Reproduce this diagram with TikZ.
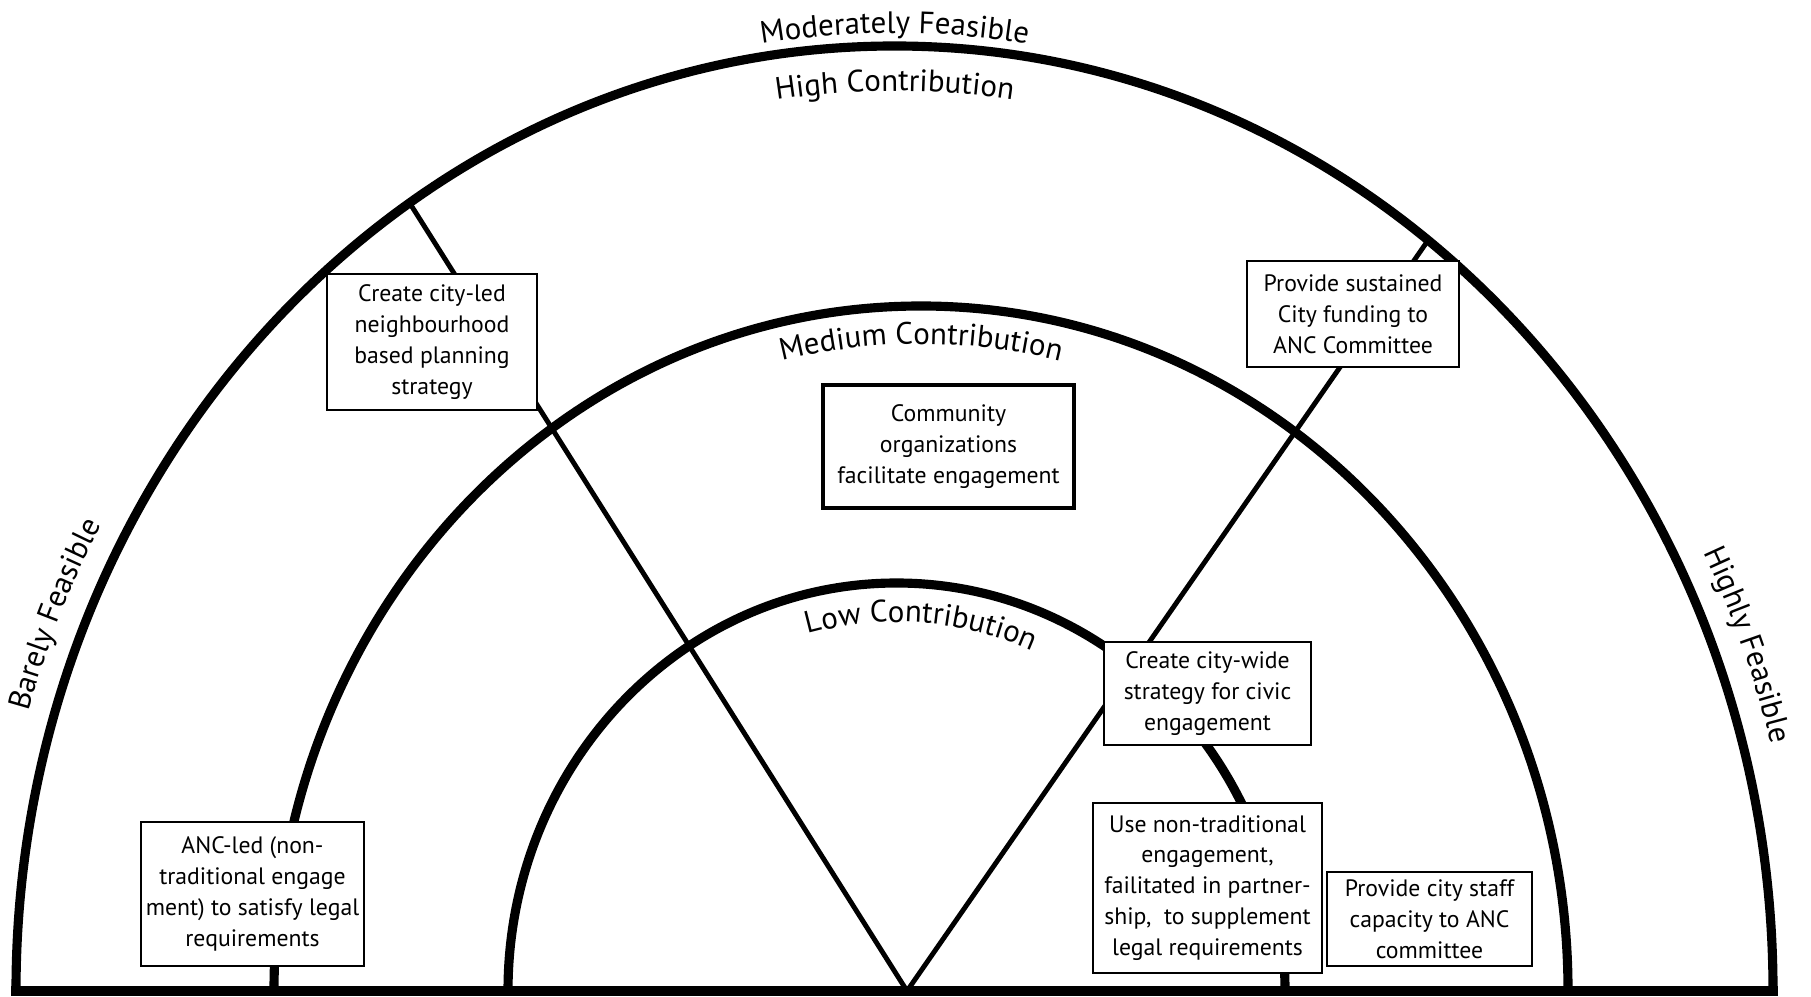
\documentclass[tikz,border=0pt]{standalone}
\usepackage{fontspec}
\setmainfont{PT Sans}
\usepackage{tikz}
\usetikzlibrary{calc,decorations.text}

\newcommand{\boxfont}{\fontsize{6.75pt}{8.8pt}\selectfont}
\newcommand{\lblfont}{\fontsize{8.8pt}{10pt}\selectfont}

\begin{document}
\begin{tikzpicture}[scale=1,
  ring/.style={line width=2.6pt},
  spoke/.style={line width=1.4pt},
  box/.style={draw,line width=0.75pt,fill=white,align=center,font=\boxfont,inner sep=1pt},
  thickbox/.style={box,line width=1.1pt},
  curved/.style={decorate,decoration={text along path,text align=center,text={|\lblfont|#1}}}]
  \useasboundingbox (0,0) rectangle (18.11,9.96);

  % centres of the three half rings
  \coordinate (ocen) at (8.945,0.05);
  \coordinate (mcen) at (9.21,0.05);
  \coordinate (icen) at (8.965,0.05);

  \draw[ring] ($(ocen)+(-8.785,0)$) arc[start angle=180,end angle=0,x radius=8.785,y radius=9.45];
  \draw[ring] ($(mcen)+(-6.47,0)$) arc[start angle=180,end angle=0,x radius=6.47,y radius=6.85];
  \draw[ring] ($(icen)+(-3.885,0)$) arc[start angle=180,end angle=0,x radius=3.885,y radius=4.08];

  % the V
  \coordinate (apex) at (9.07,0.05);
  \coordinate (ltop) at ($(ocen)+(123.5:8.785 and 9.45)$);
  \coordinate (rtop) at ($(ocen)+(52.6:8.785 and 9.45)$);
  \draw[spoke] (ltop) -- (apex) -- (rtop);

  % ground line
  \coordinate (gl) at ($(ocen)+(-8.835,0)$);
  \coordinate (gr) at ($(ocen)+(8.835,0)$);
  \draw[line width=0.1cm] (gl) -- (gr);

  \node[box,minimum width=2.10cm,minimum height=1.36cm] (cityled) at (4.32,6.54) {Create city-led\\neighbourhood\\based planning\\strategy};
  \node[box,minimum width=2.12cm,minimum height=1.06cm] (funding) at (13.53,6.82) {Provide sustained\\City funding to\\ANC Committee};
  \node[thickbox,minimum width=2.51cm,minimum height=1.23cm] (community) at (9.485,5.495) {Community\\organizations\\facilitate engagement};
  \node[box,minimum width=2.07cm,minimum height=1.03cm] (citywide) at (12.075,3.025) {Create city-wide\\strategy for civic\\engagement};
  \node[box,minimum width=2.23cm,minimum height=1.44cm] (ancled) at (2.525,1.02) {ANC-led (non-\\traditional engage\\ment) to satisfy legal\\requirements};
  \node[box,minimum width=2.29cm,minimum height=1.70cm] (nontrad) at (12.075,1.08) {Use non-traditional\\engagement,\\failitated in partner-\\ship,~ to supplement\\legal requirements};
  \node[box,minimum width=2.05cm,minimum height=0.94cm] (staff) at (14.295,0.77) {Provide city staff\\capacity to ANC\\committee};

  % curved labels
  \path[curved=Moderately Feasible] ($(ocen)+(120:8.915 and 9.58)$) arc[start angle=120,end angle=60,x radius=8.915,y radius=9.58];
  \path[curved=High Contribution] ($(ocen)+(120:8.335 and 9.0)$) arc[start angle=120,end angle=60,x radius=8.335,y radius=9.0];
  \path[curved=Medium Contribution] ($(mcen)+(125:6.09 and 6.47)$) arc[start angle=125,end angle=55,x radius=6.09,y radius=6.47];
  \path[curved=Low Contribution] ($(icen)+(126:3.495 and 3.69)$) arc[start angle=126,end angle=46,x radius=3.495,y radius=3.69];
  \path[curved=Barely Feasible] ($(ocen)+(172.2:9.045 and 9.71)$) arc[start angle=172.2,end angle=142.2,x radius=9.045,y radius=9.71];
  \path[curved=Highly Feasible] ($(ocen)+(35.8:9.065 and 9.73)$) arc[start angle=35.8,end angle=5.8,x radius=9.065,y radius=9.73];
\end{tikzpicture}
\end{document}
